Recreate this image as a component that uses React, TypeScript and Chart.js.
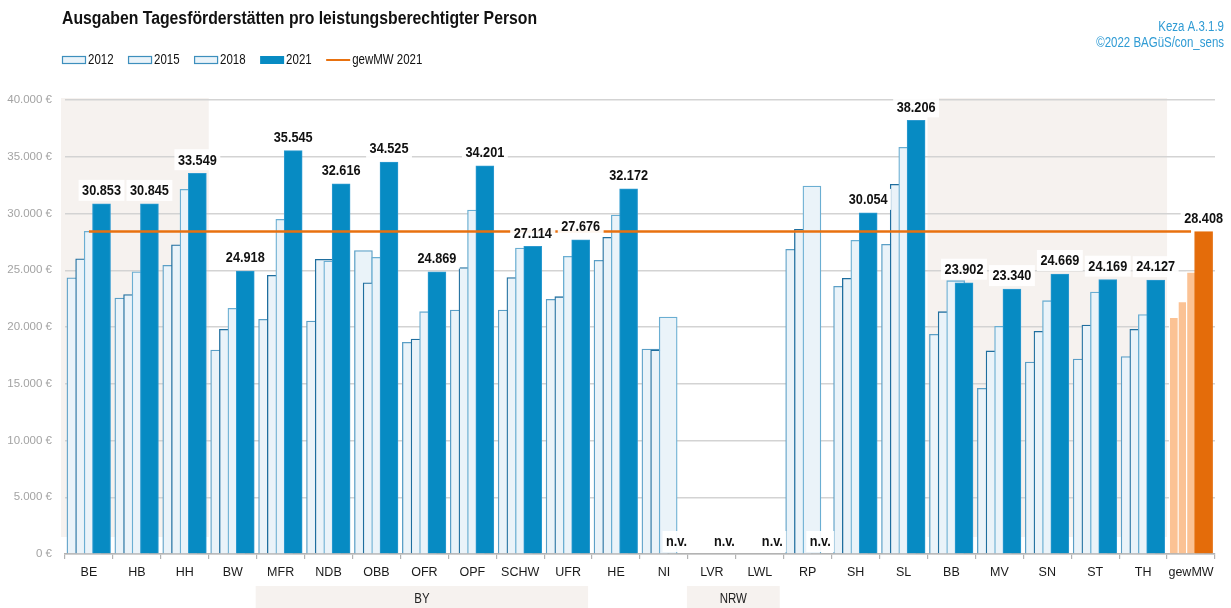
import React, { useEffect, useRef } from 'react';
import { Chart, registerables } from 'chart.js';

Chart.register(...registerables);

// ---------- data ----------
const categories = ['BE', 'HB', 'HH', 'BW', 'MFR', 'NDB', 'OBB', 'OFR', 'OPF', 'SCHW', 'UFR', 'HE', 'NI', 'LVR', 'LWL', 'RP', 'SH', 'SL', 'BB', 'MV', 'SN', 'ST', 'TH', 'gewMW'];
const years = ['2012', '2015', '2018', '2021'];
const v2012 = [24340, 22550, 25430, 17970, 20680, 20530, 26730, 18650, 21500, 21500, 22440, 25870, 18060, null, null, 26850, 23580, 27280, 19350, 14600, 16920, 17180, 17390, 20880];
const v2015 = [26000, 22850, 27250, 19800, 24550, 25960, 23900, 18940, 25230, 24350, 22670, 27900, 17980, null, null, 28600, 24290, 32570, 21350, 17890, 19620, 20180, 19800, 22260];
const v2018 = [28430, 24870, 32130, 21650, 29490, 25810, 26140, 21350, 30310, 26960, 26230, 29870, 20880, null, null, 32420, 27640, 35830, 24080, 20060, 22320, 23080, 21090, 24870];
const v2021 = [30853, 30845, 33549, 24918, 35545, 32616, 34525, 24869, 34201, 27114, 27676, 32172, null, null, null, null, 30054, 38206, 23902, 23340, 24669, 24169, 24127, 28408];
const gewMW2021 = [28408, 28408, 28408, 28408, 28408, 28408, 28408, 28408, 28408, 28408, 28408, 28408, 28408, 28408, 28408, 28408, 28408, 28408, 28408, 28408, 28408, 28408, 28408, 28408];
const lineLabel = 'gewMW 2021';
const shadedGroups = [['BE', 'HB', 'HH'], ['BB', 'MV', 'SN', 'ST', 'TH']];
const regionGroups = [
  { label: 'BY', from: 'MFR', to: 'UFR' },
  { label: 'NRW', from: 'LVR', to: 'LWL' },
];
const yMax = 40000;
const yStep = 5000;
const titleText = 'Ausgaben Tagesförderstätten pro leistungsberechtigter Person';
const sourceLines = ['Keza A.3.1.9', '©2022 BAGüS/con_sens'];
const missingText = 'n.v.';

// ---------- styles ----------
const SANS = "'Liberation Sans', Arial, sans-serif";
const NARROW_SCALE = 0.82;
const TITLE_SCALE = 0.877;
const offsets = [-0.272, -0.09, 0.088, 0.262];
const lightFill = '#eaf3f9';
const yearBorders = ['#5b9fc6', '#1f6e9e', '#6aaed2', '#2d9ad0'];
const blue2021 = '#078bc3';
const gewLight = '#fbc294';
const gewDark = '#e46c0a';
const lineColor = '#e8710f';
const beige = '#f6f2ef';

const fmt = (v: number) => String(Math.round(v)).replace(/\B(?=(\d{3})+(?!\d))/g, '.');
const GEW = categories.indexOf('gewMW');

// draw horizontally condensed text (Arial Narrow look)
function narrowText(ctx: CanvasRenderingContext2D, text: string, x: number, y: number, align: 'left' | 'center' | 'right', scale = NARROW_SCALE) {
  ctx.save();
  ctx.translate(x, y);
  ctx.scale(scale, 1);
  ctx.textAlign = align;
  ctx.fillText(text, 0, 0);
  ctx.restore();
}
function narrowWidth(ctx: CanvasRenderingContext2D, text: string) {
  return ctx.measureText(text).width * NARROW_SCALE;
}

const decorPlugin = {
  id: 'decor',
  beforeDraw(chart: any) {
    const { ctx, chartArea, scales } = chart;
    const xs = scales.xl;
    const ys = scales.y;
    ctx.save();
    ctx.fillStyle = beige;
    for (const g of shadedGroups) {
      const i0 = categories.indexOf(g[0]);
      const i1 = categories.indexOf(g[g.length - 1]);
      const x0 = xs.getPixelForValue(i0 - 0.5) - (i0 === 0 ? 4 : 0);
      const x1 = xs.getPixelForValue(i1 + 0.5);
      const top = ys.getPixelForValue(yMax) - 2;
      const bottom = chartArea.bottom - 17;
      ctx.fillRect(x0, top, x1 - x0, bottom - top);
    }
    ctx.restore();
  },
  afterDatasetsDraw(chart: any) {
    const { ctx, scales } = chart;
    const xs = scales.xl;
    const ys = scales.y;
    ctx.save();
    ctx.font = `bold 15.5px ${SANS}`;
    ctx.textBaseline = 'middle';
    v2021.forEach((v, i) => {
      const x = xs.getPixelForValue(i + offsets[3]);
      const text = v == null ? missingText : fmt(v);
      const yc = v == null ? ys.getPixelForValue(0) - 12.5 : ys.getPixelForValue(v) - 13.5;
      const w = narrowWidth(ctx, text) + 7;
      ctx.fillStyle = 'rgba(255,255,255,0.93)';
      ctx.fillRect(x - w / 2, yc - 10.5, w, 21);
      ctx.fillStyle = '#111111';
      narrowText(ctx, text, x, yc + 0.5, 'center');
    });
    ctx.restore();
  },
  afterDraw(chart: any) {
    const { ctx, scales, width } = chart;
    const xs = scales.xl;
    ctx.save();
    // title
    ctx.fillStyle = '#111111';
    ctx.font = `bold 18px ${SANS}`;
    ctx.textBaseline = 'alphabetic';
    narrowText(ctx, titleText, 62, 24, 'left', TITLE_SCALE);
    // source
    ctx.fillStyle = '#2f9bd4';
    ctx.font = `14px ${SANS}`;
    narrowText(ctx, sourceLines[0], width - 7, 31, 'right');
    narrowText(ctx, sourceLines[1], width - 7, 46.5, 'right');
    // legend
    ctx.font = `14px ${SANS}`;
    ctx.textBaseline = 'middle';
    let lx = 62;
    const ly = 60;
    years.forEach((yr, k) => {
      if (k < 3) {
        ctx.fillStyle = lightFill;
        ctx.fillRect(lx, ly - 3.5, 24, 7);
        ctx.strokeStyle = '#3d8fbd';
        ctx.lineWidth = 1.2;
        ctx.strokeRect(lx + 0.5, ly - 3.5, 23, 7);
      } else {
        ctx.fillStyle = blue2021;
        ctx.fillRect(lx, ly - 4, 24, 8);
      }
      ctx.fillStyle = '#111111';
      narrowText(ctx, yr, lx + 26, ly + 0.5, 'left');
      lx += 26 + narrowWidth(ctx, yr) + 14.5;
    });
    ctx.strokeStyle = lineColor;
    ctx.lineWidth = 2;
    ctx.beginPath();
    ctx.moveTo(lx, ly);
    ctx.lineTo(lx + 24, ly);
    ctx.stroke();
    ctx.fillStyle = '#111111';
    narrowText(ctx, lineLabel, lx + 26, ly + 0.5, 'left');
    // region boxes below axis
    for (const r of regionGroups) {
      const i0 = categories.indexOf(r.from);
      const i1 = categories.indexOf(r.to);
      const x0 = xs.getPixelForValue(i0 - 0.5) - 1;
      const x1 = xs.getPixelForValue(i1 + 0.5) - 4;
      ctx.fillStyle = beige;
      ctx.fillRect(x0, 586, x1 - x0, 22);
      ctx.fillStyle = '#222222';
      narrowText(ctx, r.label, (x0 + x1) / 2, 599, 'center');
    }
    ctx.restore();
  },
};

export default function App() {
  const ref = useRef<HTMLCanvasElement | null>(null);
  useEffect(() => {
    if (!ref.current) return;
    const series = [v2012, v2015, v2018, v2021];
    const barSets = series.map((vals, k) => ({
      type: 'bar' as const,
      label: years[k],
      xAxisID: 'xl',
      order: 4 - k,
      grouped: false,
      barThickness: 18,
      data: vals.map((v, i) => ({ x: i + offsets[k], y: v })),
      backgroundColor: (c: any) =>
        c.dataIndex === GEW ? (k === 3 ? gewDark : gewLight) : k === 3 ? blue2021 : lightFill,
      borderColor: (c: any) => (c.dataIndex === GEW ? (k === 3 ? gewDark : '#ffffff') : yearBorders[k]),
      borderWidth: k === 3 ? 1 : 1.3,
    }));
    const chart = new Chart(ref.current, {
      type: 'bar',
      data: {
        labels: categories,
        datasets: [
          ...barSets,
          {
            type: 'line' as const,
            label: lineLabel,
            xAxisID: 'x',
            order: 0,
            data: gewMW2021,
            borderColor: lineColor,
            borderWidth: 2.5,
            pointRadius: 0,
            fill: false,
          },
        ] as any,
      },
      options: {
        animation: false,
        responsive: true,
        maintainAspectRatio: false,
        layout: { padding: { left: 0, right: 16, top: 100, bottom: 0 } },
        plugins: { legend: { display: false }, tooltip: { enabled: false }, title: { display: false } },
        scales: {
          x: {
            type: 'category',
            offset: true,
            grid: { offset: true, drawOnChartArea: false, drawTicks: true, tickLength: 5, color: '#b3b3b3', lineWidth: 1.2 },
            border: { display: true, color: '#b3b3b3', width: 1.5 },
            ticks: { color: '#1a1a1a', font: { family: SANS, size: 12.5 }, padding: 6, maxRotation: 0, autoSkip: false },
            afterFit: (s: any) => { s.height = 54; },
          },
          xl: {
            type: 'linear',
            axis: 'x',
            display: false,
            offset: false,
            grace: 0,
            bounds: 'data',
            min: -0.5,
            max: categories.length - 0.5,
            grid: { offset: false },
          },
          y: {
            min: 0,
            max: yMax,
            ticks: {
              stepSize: yStep,
              color: '#a3a3a3',
              font: { family: SANS, size: 11.5 },
              padding: 13,
              callback: (v: any) => fmt(Number(v)) + ' €',
            },
            grid: { color: '#d3d3d3', lineWidth: 1.5, drawTicks: false },
            border: { display: false },
            afterFit: (s: any) => { s.width = 65; },
          },
        },
      } as any,
      plugins: [decorPlugin],
    });
    return () => chart.destroy();
  }, []);
  return (
    <div style={{ position: 'absolute', left: 0, top: 0, width: 1231, height: 608, background: '#ffffff' }}>
      <canvas ref={ref} />
    </div>
  );
}
